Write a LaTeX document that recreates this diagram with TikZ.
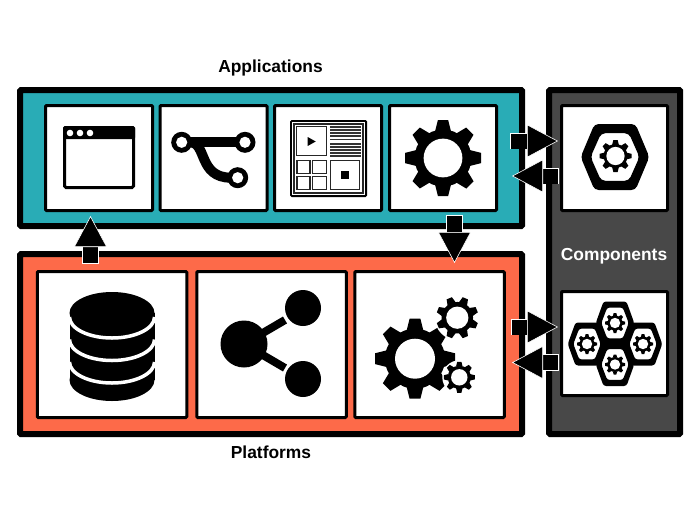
\documentclass[tikz,border=0pt]{standalone}
\usepackage{fontspec}
\setmainfont{Liberation Sans}
\usetikzlibrary{arrows.meta}
\definecolor{appteal}{RGB}{41,172,182}
\definecolor{platorange}{RGB}{253,106,73}
\definecolor{compgrey}{RGB}{72,72,72}
\begin{document}
\begin{tikzpicture}[x=1pt, y=-1pt]
	\tikzset{panel/.style={rectangle, draw=black, line width=6pt, rounded corners=1pt, inner sep=0pt},
	card/.style={rectangle, draw=black, fill=white, line width=3pt, rounded corners=1pt, inner sep=0pt},
	heading/.style={font=\fontsize{17.4}{20}\selectfont\bfseries, inner sep=0pt, anchor=base},
	blockarrow/.style={-{Triangle[length=31pt, width=33pt, line width=.6pt, color=white, fill=black]}, draw=black, line width=15pt,
		preaction={draw=white, -, line width=16.2pt, shorten >=31pt, shorten <=-.6pt}},
	pics/gear/.style={code={
		\fill (0,0) circle (.75);
		\foreach \a in {0,45,...,315} {
			\fill[rotate=\a] (.7,-.21) -- (1,-.135) -- (1,.135) -- (.7,.21) -- cycle;
		}
		\fill[white] (0,0) circle (#1);
	}},
	pics/hexnut/.style={code={
		\fill[rounded corners=#1, even odd rule] (-1.04,0) -- (-.62,-1) -- (.62,-1) -- (1.04,0) -- (.62,1) -- (-.62,1) -- cycle
			(-.74,0) -- (-.42,-.72) -- (.42,-.72) -- (.74,0) -- (.42,.72) -- (-.42,.72) -- cycle;
	}}};
	\useasboundingbox (0,0) rectangle (700,525);

	\node[panel, fill=appteal, minimum width=502pt, minimum height=136pt] (apps) at (271,158) {};
	\node[panel, fill=platorange, minimum width=502pt, minimum height=180pt] (plats) at (271,344) {};
	\node[panel, fill=compgrey, minimum width=131pt, minimum height=344pt] (comps) at (614.5,262) {};

	\foreach \n/\x in {1/99, 2/213.5, 3/328, 4/443} {
		\node[card, minimum width=107pt, minimum height=105pt] (app\n) at (\x,158) {};
	}
	\foreach \n/\x in {1/112, 2/271.5, 3/429.5} {
		\node[card, minimum width=149.5pt, minimum height=146pt] (plat\n) at (\x,344.5) {};
	}
	\node[card, minimum width=106pt, minimum height=105pt] (comp1) at (614.5,158) {};
	\node[card, minimum width=106pt, minimum height=104pt] (comp2) at (614.5,343.5) {};

	\node[heading] (appstitle) at (270.5,72.7) {Applications};
	\node[heading] (platstitle) at (271,458) {Platforms};
	\node[heading, text=white] (compstitle) at (614,260) {Components};

	\fill[rounded corners=1.5pt] (63,126) rectangle (135,139);
	\draw[line width=3pt, rounded corners=1.5pt] (64.5,127.5) rectangle (133.5,187.5);
	\foreach \x in {70,80,90} {
		\fill[white] (\x,133) circle (3.3);
	}

	\draw[line width=10pt] (182,142.3) -- (245,142.3);
	\draw[line width=10pt] (190,142.3) .. controls (207,142.3) and (198,177.7) .. (231,177.7);
	\foreach \x/\y in {181.7/142.3, 245/142.3, 237.7/177.7} {
		\fill (\x,\y) circle (10.5);
		\fill[white] (\x,\y) circle (5.6);
	}

	\fill[rounded corners=1.5pt] (290,120) rectangle (367,197);
	\fill[white] (292.3,122.3) rectangle (364.7,194.7);
	\draw[line width=1.5pt, draw=black!85] (294,124) rectangle (363,193);
	\foreach \a/\b/\c/\d in {296.9/126.9/326.6/155.8, 297/160.5/310/173.7, 312.5/160.5/326.5/173.7, 297/176.8/310/189.5, 312.5/176.8/326.5/189.5, 330.5/160.5/359.7/189.5} {
		\draw[line width=1.1pt, draw=black!85] (\a,\b) rectangle (\c,\d);
	}
	\foreach \y in {127,130,133,136,139.5,144,147,150,153,156} {
		\draw[line width=1.1pt, draw=black!80] (330,\y) -- (361,\y);
	}
	\fill (307.7,137) -- (315.7,141.5) -- (307.7,146) -- cycle;
	\fill (341,171) rectangle (349,179);

	\pic[scale=38] at (443,158) {gear=.51};

	\fill (69.5,313) rectangle (154.5,380);
	\fill (112,313) ellipse [x radius=42.5, y radius=21];
	\fill (112,380) ellipse [x radius=42.5, y radius=21];
	\foreach \y in {317,339.5,362} {
		\draw[white, line width=3.5pt] (69.5,\y) arc [start angle=180, end angle=0, x radius=42.5, y radius=21];
	}

	\draw[line width=8pt] (244,344) -- (285,320);
	\draw[line width=8pt] (244,344) -- (285,368);
	\fill (244,344) circle (23.5);
	\fill (303,308) circle (18);
	\fill (303,379) circle (18);

	\pic[scale=40] at (415,358.7) {gear=.5};
	\fill[white] (457.3,317.7) circle (22.5);
	\fill[white] (459.3,377.3) circle (17);
	\pic[scale=21, rotate=22.5] at (457.3,317.7) {gear=.53};
	\pic[scale=15.5] at (459.3,377.3) {gear=.53};

	\pic[scale=33] at (615,157) {hexnut=4pt};
	\pic[scale=16] at (615.5,156) {gear=.57};
	\foreach \x/\y in {615/323, 587/344, 643/344, 615/364.5} {
		\pic[xscale=18.5, yscale=21.5] at (\x,\y) {hexnut=2.5pt};
		\pic[scale=10] at (\x,\y) {gear=.52};
	}

	\coordinate (toCompA) at (511,141);
	\coordinate (atCompA) at (558,141);
	\coordinate (fromCompA) at (558,176);
	\coordinate (backCompA) at (512,176);
	\coordinate (toCompB) at (512,327);
	\coordinate (atCompB) at (558,327);
	\coordinate (fromCompB) at (558,362.5);
	\coordinate (backCompB) at (512,362.5);
	\coordinate (downStart) at (454.5,216);
	\coordinate (downEnd) at (454.5,263);
	\coordinate (upStart) at (90.5,263);
	\coordinate (upEnd) at (90.5,216);

	\draw[blockarrow] (toCompA) -- (atCompA);
	\draw[blockarrow] (fromCompA) -- (backCompA);
	\draw[blockarrow] (toCompB) -- (atCompB);
	\draw[blockarrow] (fromCompB) -- (backCompB);
	\draw[blockarrow] (downStart) -- (downEnd);
	\draw[blockarrow] (upStart) -- (upEnd);
\end{tikzpicture}
\end{document}
